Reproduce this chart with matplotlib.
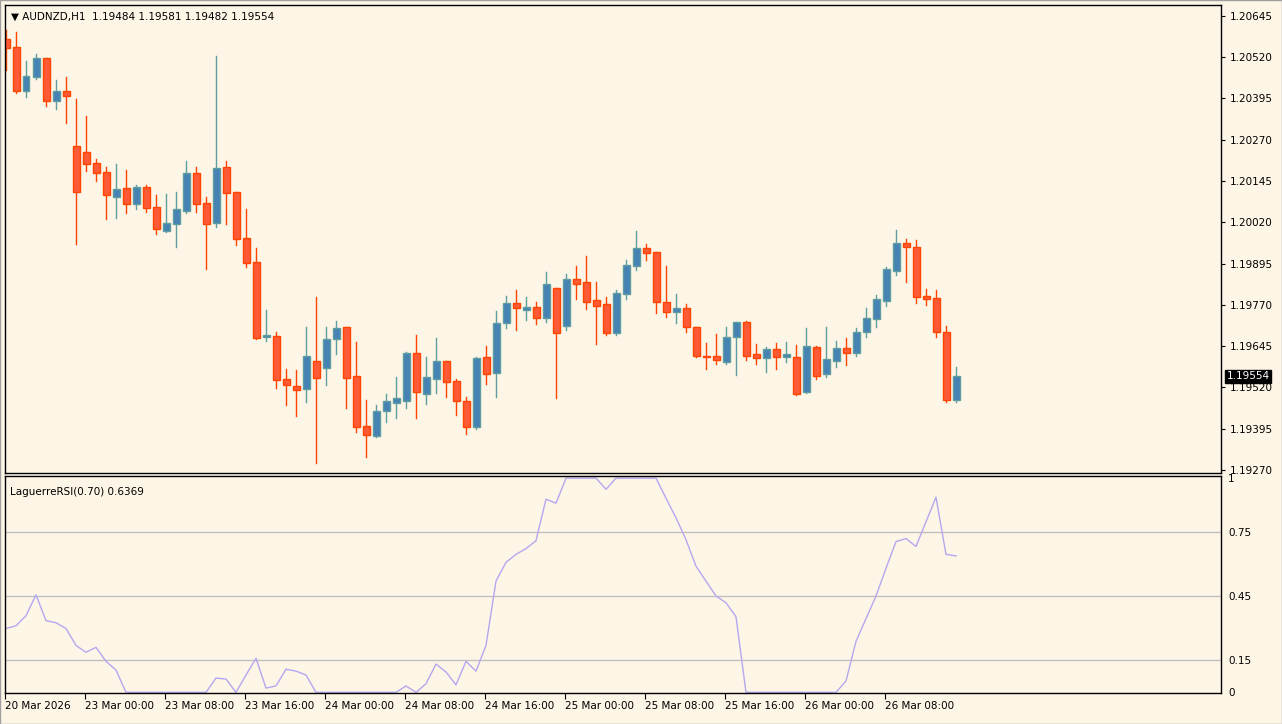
import matplotlib
matplotlib.use("Agg")
import matplotlib.pyplot as plt
from matplotlib.patches import Rectangle

opens = [1.20575,1.20551,1.20418,1.20460,1.20518,1.20387,1.20418,1.20251,1.20233,1.20200,
         1.20172,1.20097,1.20124,1.20075,1.20127,1.20066,1.19994,1.20015,1.20054,1.20169,
         1.20078,1.20018,1.20187,1.20112,1.19972,1.19900,1.19672,1.19675,1.19545,1.19524,
         1.19515,1.19600,1.19578,1.19666,1.19703,1.19554,1.19403,1.19372,1.19448,1.19472,
         1.19478,1.19624,1.19500,1.19545,1.19600,1.19539,1.19478,1.19400,1.19612,1.19563,
         1.19715,1.19775,1.19754,1.19763,1.19730,1.19821,1.19706,1.19848,1.19839,1.19784,
         1.19772,1.19684,1.19803,1.19887,1.19942,1.19930,1.19778,1.19748,1.19760,1.19703,
         1.19615,1.19615,1.19597,1.19672,1.19718,1.19621,1.19609,1.19636,1.19612,1.19612,
         1.19506,1.19642,1.19560,1.19600,1.19639,1.19624,1.19688,1.19727,1.19781,1.19872,
         1.19957,1.19945,1.19797,1.19791,1.19688,1.19481]
highs = [1.20603,1.20597,1.20509,1.20530,1.20518,1.20451,1.20460,1.20394,1.20342,1.20212,
         1.20187,1.20197,1.20178,1.20133,1.20133,1.20103,1.20106,1.20112,1.20206,1.20187,
         1.20097,1.20524,1.20206,1.20112,1.20060,1.19942,1.19754,1.19688,1.19575,1.19572,
         1.19703,1.19794,1.19703,1.19721,1.19703,1.19657,1.19481,1.19466,1.19500,1.19551,
         1.19627,1.19678,1.19612,1.19669,1.19600,1.19545,1.19491,1.19612,1.19645,1.19751,
         1.19797,1.19815,1.19794,1.19778,1.19869,1.19821,1.19863,1.19887,1.19918,1.19839,
         1.19794,1.19815,1.19906,1.19994,1.19954,1.19930,1.19887,1.19803,1.19772,1.19703,
         1.19654,1.19681,1.19703,1.19718,1.19721,1.19651,1.19642,1.19654,1.19657,1.19648,
         1.19700,1.19645,1.19703,1.19660,1.19669,1.19700,1.19760,1.19800,1.19884,1.19997,
         1.19969,1.19966,1.19818,1.19815,1.19706,1.19581]
lows = [1.20481,1.20412,1.20400,1.20454,1.20372,1.20363,1.20321,1.19954,1.20175,1.20145,
        1.20030,1.20033,1.20048,1.20060,1.20051,1.19984,1.19991,1.19945,1.20048,1.20051,
        1.19878,1.20006,1.20015,1.19951,1.19884,1.19666,1.19660,1.19518,1.19466,1.19433,
        1.19475,1.19291,1.19527,1.19621,1.19457,1.19385,1.19309,1.19369,1.19415,1.19427,
        1.19457,1.19427,1.19469,1.19503,1.19491,1.19436,1.19378,1.19394,1.19530,1.19491,
        1.19700,1.19694,1.19724,1.19712,1.19718,1.19488,1.19694,1.19788,1.19757,1.19651,
        1.19678,1.19678,1.19788,1.19875,1.19906,1.19745,1.19733,1.19715,1.19688,1.19612,
        1.19575,1.19591,1.19591,1.19557,1.19603,1.19591,1.19566,1.19575,1.19597,1.19497,
        1.19503,1.19545,1.19551,1.19581,1.19588,1.19615,1.19672,1.19703,1.19766,1.19860,
        1.19839,1.19775,1.19769,1.19672,1.19475,1.19475]
closes = [1.20548,1.20418,1.20463,1.20518,1.20387,1.20418,1.20403,1.20112,1.20197,1.20169,
          1.20103,1.20121,1.20075,1.20127,1.20063,1.20000,1.20018,1.20060,1.20169,1.20075,
          1.20015,1.20184,1.20109,1.19969,1.19897,1.19669,1.19678,1.19542,1.19527,1.19512,
          1.19615,1.19548,1.19666,1.19700,1.19548,1.19400,1.19375,1.19448,1.19478,1.19488,
          1.19624,1.19506,1.19551,1.19600,1.19536,1.19478,1.19400,1.19609,1.19560,1.19715,
          1.19775,1.19760,1.19763,1.19730,1.19833,1.19684,1.19848,1.19833,1.19778,1.19766,
          1.19684,1.19806,1.19891,1.19942,1.19927,1.19778,1.19748,1.19760,1.19703,1.19615,
          1.19612,1.19603,1.19672,1.19718,1.19615,1.19609,1.19636,1.19612,1.19621,1.19500,
          1.19645,1.19554,1.19606,1.19639,1.19624,1.19688,1.19730,1.19788,1.19878,1.19957,
          1.19945,1.19794,1.19788,1.19688,1.19481,1.19554]
rsi = [0.298,0.311,0.358,0.455,0.335,0.325,0.298,0.219,0.187,0.210,
       0.145,0.104,0,0,0,0,0,0,0,0,
       0,0.067,0.062,0,0.081,0.159,0.02,0.03,0.108,0.099,
       0.081,0,0,0,0,0,0,0,0,0,
       0.03,0,0.04,0.132,0.095,0.035,0.145,0.099,0.219,0.519,
       0.607,0.644,0.671,0.708,0.902,0.883,1,1,1,1,
       0.948,1,1,1,1,1,0.906,0.815,0.713,0.589,
       0.519,0.450,0.418,0.353,0,0,0,0,0,0,
       0,0,0,0,0.053,0.238,0.344,0.450,0.579,0.704,
       0.718,0.681,0.796,0.911,0.644,0.637]
tick_idx = [0,8,16,24,32,40,48,56,64,72,80,88]
tick_labels = ["20 Mar 2026","23 Mar 00:00","23 Mar 08:00","23 Mar 16:00","24 Mar 00:00",
               "24 Mar 08:00","24 Mar 16:00","25 Mar 00:00","25 Mar 08:00","25 Mar 16:00",
               "26 Mar 00:00","26 Mar 08:00"]
price_ticks = [1.20645,1.20520,1.20395,1.20270,1.20145,1.20020,1.19895,1.19770,1.19645,1.19520,1.19395,1.19270]
rsi_levels = [0.15,0.45,0.75]

BG = "#FDF5E6"
W, H = 1282, 724
fig = plt.figure(figsize=(W/100, H/100), dpi=100, facecolor="#F0F0F0")
def rect(l, t, r, b):
    return [l/W, 1-b/H, (r-l)/W, (b-t)/H]
ax = fig.add_axes(rect(5, 5, 1221, 473), facecolor=BG)
ax2 = fig.add_axes(rect(5, 476, 1221, 693), facecolor=BG)
fig.patches.append(Rectangle((0, 0), 1, 1, transform=fig.transFigure, facecolor=BG, edgecolor="#A0A0A0", lw=1, zorder=-1))

bull_fill, bull_edge = "#4682B4", "#5F9EA0"
bear_fill, bear_edge = "#FF5A36", "#FF4500"
for i, (o, h, l, c) in enumerate(zip(opens, highs, lows, closes)):
    up = c >= o
    fc, ec = (bull_fill, bull_edge) if up else (bear_fill, bear_edge)
    ax.plot([i, i], [l, h], color=ec, lw=1.0, zorder=1)
    lo, hi = min(o, c), max(o, c)
    ax.add_patch(Rectangle((i-0.35, lo), 0.7, max(hi-lo, 0.000015), facecolor=fc, edgecolor=ec, lw=1.0, zorder=2))

ax.set_xlim(-0.1, 121.5)
ax.set_ylim(1.19261, 1.20678)
ax.yaxis.tick_right()
ax.set_yticks(price_ticks)
ax.set_yticklabels([f"{p:.5f}" for p in price_ticks], fontsize=7.5)
ax.set_xticks([])
ax.tick_params(axis="y", length=3, pad=3, colors="black")
ax.text(0.005, 0.985, "▼ AUDNZD,H1  1.19484 1.19581 1.19482 1.19554", transform=ax.transAxes,
        fontsize=7.5, va="top", ha="left")
ax.text(1.0045, closes[-1], f"{closes[-1]:.5f}", transform=ax.get_yaxis_transform(), fontsize=7.5,
        color="white", va="center", ha="left",
        bbox=dict(boxstyle="square,pad=0.15", facecolor="black", edgecolor="black"))

x = list(range(len(rsi)))
for lv in rsi_levels:
    ax2.axhline(lv, color="#C0C0C0", lw=1)
ax2.plot(x, rsi, color="#B4A7F0", lw=1)
ax2.set_xlim(-0.1, 121.5)
ax2.set_ylim(-0.003, 1.01)
ax2.yaxis.tick_right()
ax2.set_yticks([0, 0.15, 0.45, 0.75, 1])
ax2.set_yticklabels(["0", "0.15", "0.45", "0.75", "1"], fontsize=7.5)
ax2.tick_params(axis="y", length=0, pad=5)
ax2.set_xticks([t - 0.1 for t in tick_idx])
ax2.set_xticklabels(tick_labels, fontsize=7.5, ha="left")
ax2.tick_params(axis="x", length=4, pad=2)
ax2.text(0.004, 0.95, "LaguerreRSI(0.70) 0.6369", transform=ax2.transAxes, fontsize=7.5, va="top", ha="left")
for a in (ax, ax2):
    for s in a.spines.values():
        s.set_linewidth(1.0)
fig.savefig("out.png", dpi=100, facecolor=fig.get_facecolor())
